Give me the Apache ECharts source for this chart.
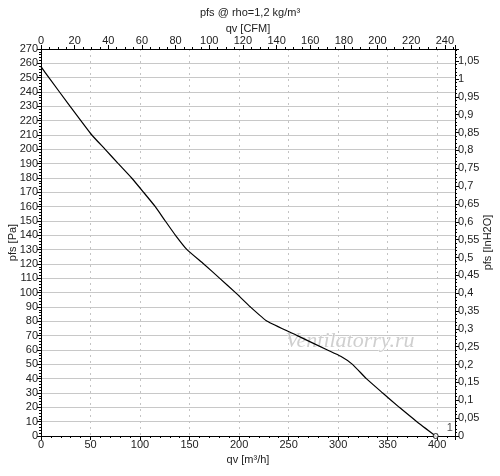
<!DOCTYPE html>
<html>
<head>
<meta charset="utf-8">
<script src="https://cdn.jsdelivr.net/npm/echarts@6/dist/echarts.min.js"></script>
<style>
html,body{margin:0;padding:0;background:#fff;}
#chart{width:500px;height:476px;}
</style>
</head>
<body>
<div id="chart"></div>
<script>
// fan curve
var qv=[0,8,29.4,51.3,64.8,78,91.5,103.6,115.4,125.5,135.8,147.4,164.3,180.5,196.4,211.5,228.4,258.8,289.2,302.6,314.5,328.5,345,361.8,379.5,398.5];//m3/h
var pfs=[257.7,250,230,210,200,190,180,170,160,150,140,130,120,110,100,90,80,70,60,55.6,50,40,30,20,10,0];//Pa
var curveName='1';

var qvMax=418;//m3/h at right edge
var pfsMax=270;
var m3hPerCfm=1.699;
var paPerInH2O=249.089;

var chart=echarts.init(document.getElementById('chart'));
var font='Liberation Sans';
var txt='#222';

var points=qv.map(function(q,i){return [q,pfs[i]];});
var last=points[points.length-1];

function axisBase(){
	return {
		axisLine:{show:true,onZero:false,lineStyle:{color:'#000',width:1}},
		axisTick:{show:true,inside:false,length:4,lineStyle:{color:'#000'}},
		minorTick:{show:true,length:2,lineStyle:{color:'#000'}},
		axisLabel:{color:txt,fontFamily:font,fontSize:11,margin:3,showMaxLabel:false},
		nameTextStyle:{color:txt,fontFamily:font,fontSize:11},
		nameLocation:'middle',
		nameMoveOverlap:false
	};
}

var xBottom=echarts.util.merge(axisBase(),{
	type:'value',position:'bottom',min:0,max:qvMax,interval:50,
	name:'qv [m³/h]',nameGap:18,
	minorTick:{splitNumber:5},
	splitLine:{show:true,lineStyle:{color:'#c4c4c4',type:[2,4],width:1}}
},true);
var xTop=echarts.util.merge(axisBase(),{
	type:'value',position:'top',min:0,max:qvMax/m3hPerCfm,interval:20,
	name:'qv [CFM]',nameGap:15,
	minorTick:{splitNumber:4},
	splitLine:{show:false}
},true);
var yLeft=echarts.util.merge(axisBase(),{
	type:'value',position:'left',min:0,max:pfsMax,interval:10,
	name:'pfs [Pa]',nameGap:23,
	minorTick:{splitNumber:5},
	splitLine:{show:true,lineStyle:{color:'#c8c8c8',width:1}}
},true);
yLeft.axisLabel.showMaxLabel=true;
var yRight=echarts.util.merge(axisBase(),{
	type:'value',position:'right',min:0,max:pfsMax/paPerInH2O,interval:0.05,
	name:'pfs [InH2O]',nameGap:27,
	minorTick:{splitNumber:5},
	splitLine:{show:false},
	axisLabel:{formatter:function(v){return String(+v.toFixed(2)).replace('.',',');}}
},true);

var option={
	animation:false,
	backgroundColor:'#fff',
	title:{
		text:'pfs @ rho=1,2 kg/m³',
		left:'center',top:7,padding:0,
		textStyle:{color:txt,fontFamily:font,fontSize:11,fontWeight:'normal'}
	},
	grid:{left:41,right:45,top:49,bottom:40,containLabel:false,outerBoundsMode:'none'},
	xAxis:[xBottom,xTop],
	yAxis:[yLeft,yRight],
	graphic:[{
		type:'text',left:285,top:330,z:1,
		style:{text:'Ventilatorry.ru',font:'italic 22px "Liberation Serif"',fill:'rgba(175,175,175,0.6)',stroke:'rgba(255,255,255,0.9)',lineWidth:1}
	}],
	series:[{
		type:'line',xAxisIndex:0,yAxisIndex:0,
		data:points,
		showSymbol:false,smooth:0.15,
		lineStyle:{color:'#000',width:1.2},
		z:3
	},{
		type:'scatter',xAxisIndex:0,yAxisIndex:0,
		data:[last],
		symbol:'circle',symbolSize:5,
		itemStyle:{color:'#fff',borderColor:'#000',borderWidth:1},
		label:{show:true,formatter:curveName,position:'right',distance:8,offset:[0,-8],color:txt,fontFamily:font,fontSize:11},
		z:4
	}]
};
chart.setOption(option);
window.addEventListener('resize',function(){chart.resize();});
</script>
</body>
</html>
